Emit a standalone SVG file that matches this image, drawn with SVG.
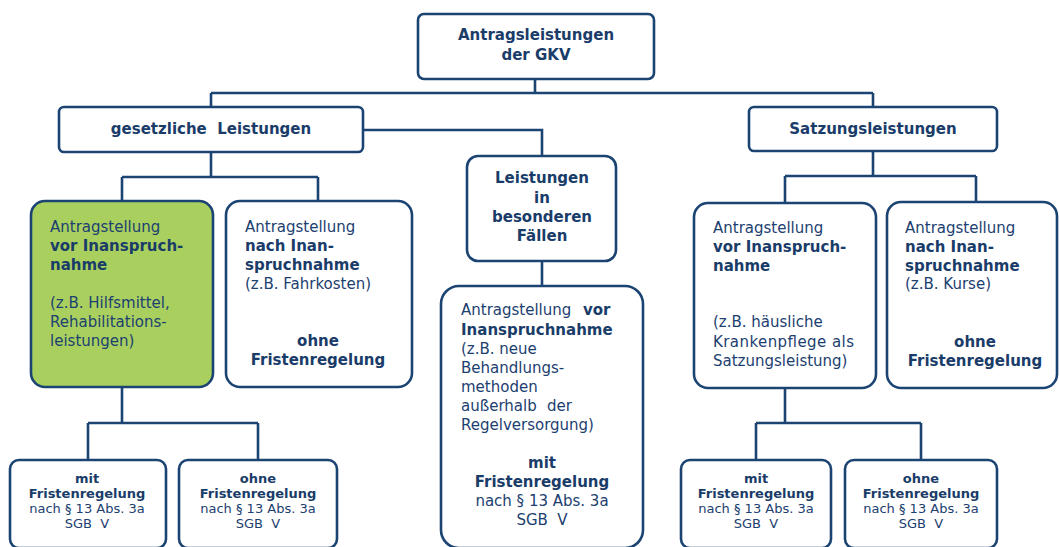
<svg xmlns="http://www.w3.org/2000/svg" width="1059" height="547" viewBox="0 0 1059 547">
<style>
.box{fill:#ffffff;stroke:#1b4473;stroke-width:2.6}
.green{fill:#a9d05f}
.t{font-family:"DejaVu Sans","Verdana",sans-serif;font-size:15px;fill:#1c4070}
.b{font-weight:bold;fill:#1a3c69}
.s{font-size:13px}
.c{text-anchor:middle}
.ln{fill:none;stroke:#1b4473;stroke-width:2.6}
</style>
<rect width="1059" height="547" fill="#ffffff"/>
<g id="connectors">
<path class="ln" d="M535 79V93M211 93H873M211 93V107M873 93V107"/>
<path class="ln" d="M363 130H542V156"/>
<path class="ln" d="M211 152V177M122 177H318M122 177V201M318 177V201"/>
<path class="ln" d="M873 151V176M785 176H976M785 176V202M976 176V202"/>
<path class="ln" d="M542 261V286"/>
<path class="ln" d="M122 387V423M88 423H258M88 423V460M258 423V460"/>
<path class="ln" d="M785 388V423M756 423H921M756 423V460M921 423V460"/>
</g>
<g id="root">
<rect class="box" x="418" y="14" width="236" height="65" rx="6"/>
<text class="t b c" x="536" y="40">Antragsleistungen</text>
<text class="t b c" x="536" y="60">der GKV</text>
</g>
<g id="gesetzlich">
<rect class="box" x="59" y="107" width="304" height="45" rx="5"/>
<text class="t b c" x="211" y="134">gesetzliche&#160; Leistungen</text>
</g>
<g id="satzung">
<rect class="box" x="749" y="107" width="248" height="44" rx="5"/>
<text class="t b c" x="873" y="134">Satzungsleistungen</text>
</g>
<g id="besondere">
<rect class="box" x="467" y="156" width="149" height="105" rx="11"/>
<text class="t b c" x="542" y="183">Leistungen</text>
<text class="t b c" x="542" y="203">in</text>
<text class="t b c" x="542" y="222">besonderen</text>
<text class="t b c" x="542" y="241">Fällen</text>
</g>
<g id="g-vor">
<rect class="box green" x="31" y="201" width="182" height="186" rx="14"/>
<text class="t" x="50" y="232">Antragstellung</text>
<text class="t b" x="50" y="251">vor Inanspruch-</text>
<text class="t b" x="50" y="270">nahme</text>
<text class="t" x="50" y="308">(z.B. Hilfsmittel,</text>
<text class="t" x="50" y="327">Rehabilitations-</text>
<text class="t" x="50" y="346">leistungen)</text>
</g>
<g id="g-nach">
<rect class="box" x="226" y="201" width="186" height="186" rx="14"/>
<text class="t" x="245" y="232">Antragstellung</text>
<text class="t b" x="245" y="251">nach Inan-</text>
<text class="t b" x="245" y="270">spruchnahme</text>
<text class="t" x="245" y="289">(z.B. Fahrkosten)</text>
<text class="t b c" x="318" y="346">ohne</text>
<text class="t b c" x="318" y="365">Fristenregelung</text>
</g>
<g id="b-vor">
<rect class="box" x="441" y="286" width="202" height="262" rx="18"/>
<text class="t" x="461" y="315">Antragstellung <tspan class="b" x="583">vor</tspan></text>
<text class="t b" x="461" y="335">Inanspruchnahme</text>
<text class="t" x="461" y="354">(z.B. neue</text>
<text class="t" x="461" y="373">Behandlungs-</text>
<text class="t" x="461" y="392">methoden</text>
<text class="t" x="461" y="411">außerhalb <tspan x="547">der</tspan></text>
<text class="t" x="461" y="430">Regelversorgung)</text>
<text class="t b c" x="542" y="468">mit</text>
<text class="t b c" x="542" y="487">Fristenregelung</text>
<text class="t c" x="542" y="506">nach § 13 Abs. 3a</text>
<text class="t c" x="542" y="525">SGB&#160; V</text>
</g>
<g id="s-vor">
<rect class="box" x="694" y="203" width="182" height="185" rx="14"/>
<text class="t" x="713" y="233">Antragstellung</text>
<text class="t b" x="713" y="252">vor Inanspruch-</text>
<text class="t b" x="713" y="271">nahme</text>
<text class="t" x="713" y="327">(z.B. häusliche</text>
<text class="t" x="713" y="347" textLength="141" lengthAdjust="spacing">Krankenpflege als</text>
<text class="t" x="713" y="366">Satzungsleistung)</text>
</g>
<g id="s-nach">
<rect class="box" x="887" y="202" width="170" height="186" rx="14"/>
<text class="t" x="905" y="233">Antragstellung</text>
<text class="t b" x="905" y="252">nach Inan-</text>
<text class="t b" x="905" y="271">spruchnahme</text>
<text class="t" x="905" y="289">(z.B. Kurse)</text>
<text class="t b c" x="975" y="347">ohne</text>
<text class="t b c" x="975" y="366">Fristenregelung</text>
</g>
<g id="g-mit">
<rect class="box" x="10" y="460" width="156" height="88" rx="9"/>
<text class="t s b c" x="87" y="483">mit</text>
<text class="t s b c" x="87" y="498">Fristenregelung</text>
<text class="t s c" x="87" y="513">nach § 13 Abs. 3a</text>
<text class="t s c" x="87" y="528">SGB&#160; V</text>
</g>
<g id="g-ohne">
<rect class="box" x="179" y="460" width="158" height="88" rx="9"/>
<text class="t s b c" x="258" y="483">ohne</text>
<text class="t s b c" x="258" y="498">Fristenregelung</text>
<text class="t s c" x="258" y="513">nach § 13 Abs. 3a</text>
<text class="t s c" x="258" y="528">SGB&#160; V</text>
</g>
<g id="s-mit">
<rect class="box" x="681" y="460" width="150" height="88" rx="9"/>
<text class="t s b c" x="756" y="483">mit</text>
<text class="t s b c" x="756" y="498">Fristenregelung</text>
<text class="t s c" x="756" y="513">nach § 13 Abs. 3a</text>
<text class="t s c" x="756" y="528">SGB&#160; V</text>
</g>
<g id="s-ohne">
<rect class="box" x="845" y="460" width="152" height="88" rx="9"/>
<text class="t s b c" x="921" y="483">ohne</text>
<text class="t s b c" x="921" y="498">Fristenregelung</text>
<text class="t s c" x="921" y="513">nach § 13 Abs. 3a</text>
<text class="t s c" x="921" y="528">SGB&#160; V</text>
</g>
</svg>
